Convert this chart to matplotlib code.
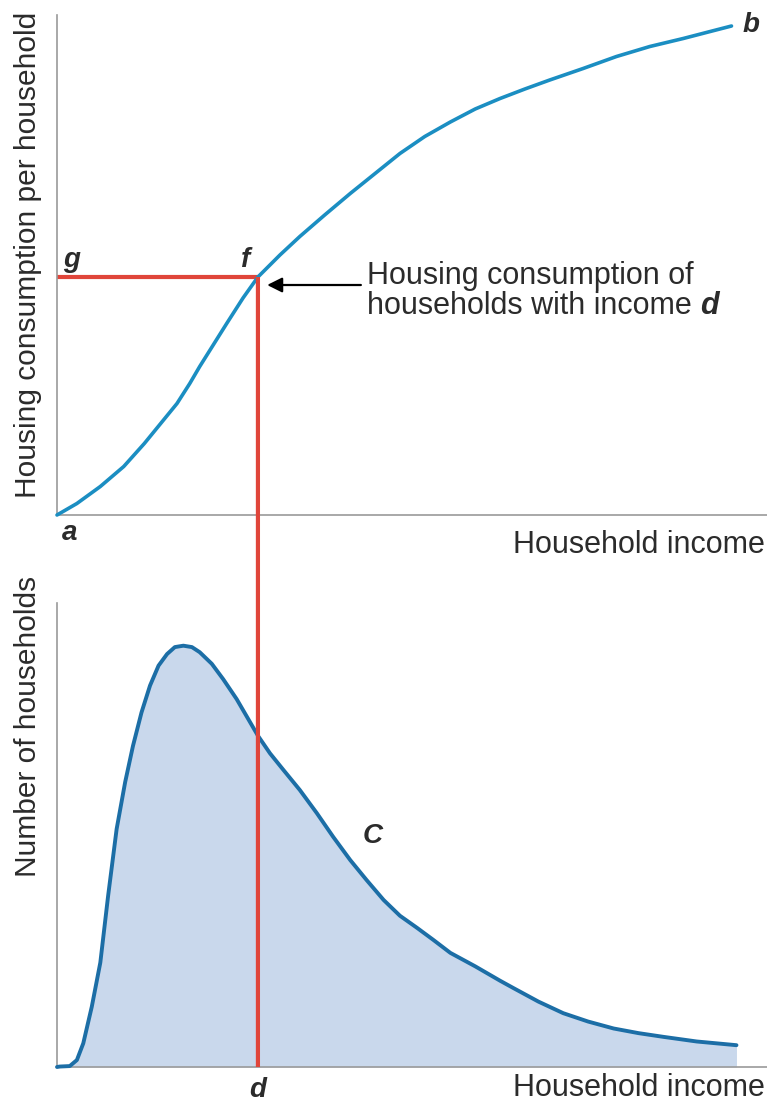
import matplotlib as mpl
import matplotlib.pyplot as plt
from matplotlib.patches import ConnectionPatch

mpl.rcParams['font.family'] = ['Liberation Sans', 'DejaVu Sans']

# housing consumption vs income (top panel)
income_top = [0, 2.8, 6.1, 9.4, 12.3, 14.6, 16.9, 18.7, 20.1, 22.0, 23.9,
              26.2, 28.3, 31.4, 34.2, 37.7, 41.3, 44.8, 48.3, 51.8, 55.4,
              58.9, 62.4, 65.9, 69.4, 74.1, 78.8, 83.5, 88.2, 92.0, 95.0]
consumption = [0, 2.3, 5.7, 9.7, 14.3, 18.3, 22.3, 26.3, 29.7, 34.0, 38.3,
               43.4, 47.6, 52.0, 55.7, 60.0, 64.3, 68.3, 72.3, 75.7, 78.6,
               81.2, 83.3, 85.2, 87.0, 89.3, 91.7, 93.7, 95.3, 96.7, 97.8]

# income distribution (bottom panel)
income_bot = [0, 0.4, 1.8, 2.8, 3.7, 4.9, 6.1, 7.2, 8.4, 9.6, 10.7, 11.9,
              13.1, 14.3, 15.5, 16.6, 17.8, 19.0, 20.1, 21.8, 23.4, 25.3,
              27.2, 28.3, 30.0, 31.9, 34.2, 36.6, 38.9, 41.3, 43.6, 46.0,
              48.3, 50.7, 53.0, 55.4, 58.9, 62.4, 64.3, 67.8, 71.3, 74.8,
              78.4, 81.9, 85.4, 90.1, 95.7]
households = [0, 0.1, 0.2, 1.5, 5.1, 13.0, 22.5, 36.9, 51.3, 61.4, 69.2,
              76.4, 82.2, 86.5, 89.0, 90.5, 90.8, 90.5, 89.4, 86.9, 83.6,
              79.3, 74.3, 71.4, 67.6, 64.0, 59.7, 54.7, 49.6, 44.6, 40.3,
              36.0, 32.6, 30.0, 27.4, 24.6, 21.7, 18.6, 17.0, 14.1, 11.6,
              9.8, 8.3, 7.3, 6.5, 5.5, 4.7]

d_income = 28.3
f_consumption = 47.6

text_col = '#2b2b2b'
axis_col = '#9a9a9a'
red = '#e0453a'
fs = 22
lab_fs = 20

fig = plt.figure(figsize=(7.67, 11.04), dpi=100)
ax1 = fig.add_axes([0.07432, 0.53351, 0.92568, 0.45290])
ax2 = fig.add_axes([0.07432, 0.03351, 0.92568, 0.42029])

for ax in (ax1, ax2):
    ax.set_xlim(0, 100)
    ax.set_ylim(0, 100)
    ax.set_xticks([])
    ax.set_yticks([])
    for s in ('top', 'right'):
        ax.spines[s].set_visible(False)
    for s in ('left', 'bottom'):
        ax.spines[s].set_color(axis_col)
        ax.spines[s].set_linewidth(1.2)

# top panel
ax1.plot([0, d_income], [f_consumption, f_consumption], color=red, lw=3,
         solid_capstyle='butt', zorder=2, clip_on=False)
ax1.plot(income_top, consumption, color='#1b8ec2', lw=2.6, zorder=3,
         clip_on=False, solid_capstyle='round', solid_joinstyle='round')

con = ConnectionPatch(xyA=(d_income, f_consumption), coordsA=ax1.transData,
                      xyB=(d_income, 0), coordsB=ax2.transData,
                      color=red, lw=3, capstyle='butt', zorder=5)
fig.add_artist(con)

ax1.text(0.85, 49.6, 'g', fontsize=lab_fs, weight='bold', style='italic',
         color=text_col, va='baseline', ha='left')
ax1.text(25.9, 49.6, 'f', fontsize=lab_fs, weight='bold', style='italic',
         color=text_col, va='baseline', ha='left')
ax1.text(0.7, -5.0, 'a', fontsize=lab_fs, weight='bold', style='italic',
         color=text_col, va='baseline', ha='left', clip_on=False)
ax1.text(96.5, 96.6, 'b', fontsize=lab_fs, weight='bold', style='italic',
         color=text_col, va='baseline', ha='left', clip_on=False)

ax1.annotate('', xy=(29.6, 46.0), xytext=(42.8, 46.0),
             arrowprops=dict(arrowstyle='-|>,head_length=0.9,head_width=0.45',
                             color='black', lw=1.6, shrinkA=0, shrinkB=0))
ax1.text(43.7, 46.2, 'Housing consumption of', fontsize=fs, color=text_col,
         va='baseline', ha='left')
t2 = ax1.text(43.7, 40.2, 'households with income ', fontsize=fs,
              color=text_col, va='baseline', ha='left')
ax1.annotate('d', xy=(1, 0), xycoords=t2, fontsize=fs, weight='bold',
             style='italic', color=text_col, va='bottom', ha='left')

ax1.text(99.7, -7.6, 'Household income', fontsize=fs, color=text_col,
         va='baseline', ha='right', clip_on=False)
ax1.text(-4.1, 52, 'Housing consumption per household', fontsize=21.5,
         color=text_col, rotation=90, va='center', ha='center', clip_on=False)

# bottom panel
ax2.fill_between(income_bot, households, 0, color='#c9d8ec', lw=0, zorder=1)
ax2.plot(income_bot, households, color='#1c6ea6', lw=2.8, zorder=3,
         clip_on=False, solid_capstyle='round', solid_joinstyle='round')

ax2.text(43.1, 48.3, 'C', fontsize=lab_fs, weight='bold', style='italic',
         color=text_col, va='baseline', ha='left')
ax2.text(d_income, -6.5, 'd', fontsize=lab_fs, weight='bold', style='italic',
         color=text_col, va='baseline', ha='center', clip_on=False)
ax2.text(99.7, -6.3, 'Household income', fontsize=fs, color=text_col,
         va='baseline', ha='right', clip_on=False)
ax2.text(-4.1, 73.3, 'Number of households', fontsize=21.5,
         color=text_col, rotation=90, va='center', ha='center', clip_on=False)

fig.savefig('out.png', dpi=100)
